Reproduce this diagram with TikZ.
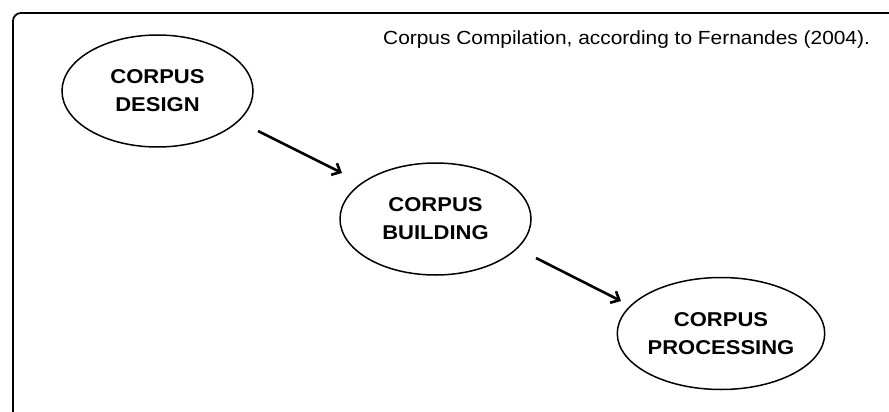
\documentclass[tikz,border=0pt]{standalone}
\usepackage{fontspec}
\setmainfont{Liberation Sans}
\newfontfamily\widesans[FakeStretch=1.1]{Liberation Sans}
\usetikzlibrary{arrows.meta,shapes.geometric}
\begin{document}
\begin{tikzpicture}[x=1pt,y=-1pt,
  stage/.style={draw=black, line width=1.5pt, ellipse, minimum width=191pt, minimum height=112pt,
    inner sep=0pt, align=center, font=\widesans\fontsize{20}{28}\selectfont\bfseries},
  flow/.style={line width=2.6pt,
    -{Straight Barb[length=7pt,width=13pt,line width=2.6pt]}},
  frame/.style={line width=1.8pt, rounded corners=8pt}]
  \useasboundingbox (0,0) rectangle (889,412);
  % outer frame, running off the right and bottom edges
  \draw[frame] (13,420) -- (13,13) -- (900,13);
  \node[anchor=base west, inner sep=0pt, font=\widesans\fontsize{19}{22}\selectfont] (title) at (383,45)
    {Corpus Compilation, according to Fernandes (2004).};
  \node[stage] (design) at (157.5,91) {CORPUS\\DESIGN};
  \node[stage] (building) at (435.5,219) {CORPUS\\BUILDING};
  \node[stage] (processing) at (721,333.5) {CORPUS\\PROCESSING};
  \draw[flow] ([shift={(100.5,40)}]design.center) -- ([shift={(-93.5,-46)}]building.center);
  \draw[flow] ([shift={(100.5,39)}]building.center) -- ([shift={(-100,-32.5)}]processing.center);
\end{tikzpicture}
\end{document}
